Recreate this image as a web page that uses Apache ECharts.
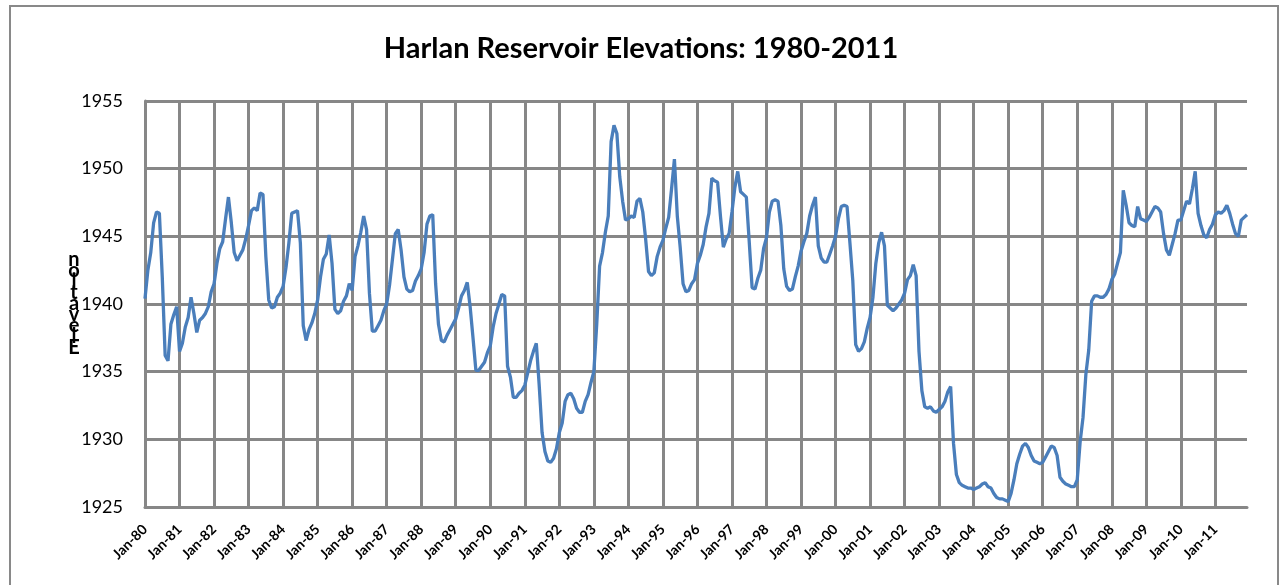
<!DOCTYPE html>
<html>
<head>
<meta charset="utf-8">
<title>Harlan Reservoir Elevations</title>
<script src="https://cdn.jsdelivr.net/npm/echarts@6/dist/echarts.min.js"></script>
<style>
  html, body { margin: 0; padding: 0; background: #fff; overflow: hidden; }
  #frame { position: absolute; left: 9px; top: 5px; width: 1266px; height: 640px; border: 2px solid #898989; }
  #chart { position: absolute; left: 0; top: 0; width: 1282px; height: 585px; }
</style>
</head>
<body>
<div id="frame"></div>
<div id="chart"></div>
<script>
// monthly reservoir elevation (ft), Jan..Dec for each year
var elev1980s = [
  1940.4, 1942.5, 1943.8, 1946.0, 1946.8, 1946.7, 1942.0, 1936.2, 1935.8, 1938.5, 1939.2, 1939.8, // 1980
  1936.5, 1937.1, 1938.3, 1939.0, 1940.5, 1939.3, 1937.9, 1938.8, 1939.0, 1939.3, 1939.8, 1940.9, // 1981
  1941.5, 1943.0, 1944.1, 1944.6, 1946.3, 1947.9, 1946.0, 1943.8, 1943.2, 1943.6, 1944.0, 1944.8, // 1982
  1945.8, 1946.9, 1947.1, 1946.9, 1948.2, 1948.1, 1943.5, 1940.3, 1939.7, 1939.8, 1940.5, 1940.8, // 1983
  1941.3, 1942.7, 1944.5, 1946.7, 1946.8, 1946.9, 1944.5, 1938.4, 1937.3, 1938.1, 1938.6, 1939.3, // 1984
  1940.3, 1942.0, 1943.3, 1943.7, 1945.1, 1943.0, 1939.6, 1939.3, 1939.5, 1940.2, 1940.6, 1941.5, // 1985
  1941.0, 1943.5, 1944.3, 1945.3, 1946.5, 1945.5, 1940.8, 1938.0, 1938.0, 1938.4, 1938.8, 1939.5, // 1986
  1940.0, 1941.4, 1943.3, 1945.2, 1945.5, 1944.0, 1942.0, 1941.1, 1940.9, 1941.0, 1941.7, 1942.1, // 1987
  1942.6, 1943.8, 1945.9, 1946.5, 1946.6, 1941.5, 1938.5, 1937.3, 1937.2, 1937.7, 1938.1, 1938.5, // 1988
  1938.9, 1939.7, 1940.6, 1941.0, 1941.6, 1939.8, 1937.5, 1935.1, 1935.1, 1935.4, 1935.7, 1936.4  // 1989
];
var elev1990s = [
  1936.9, 1938.3, 1939.3, 1940.0, 1940.7, 1940.6, 1935.4, 1934.6, 1933.1, 1933.1, 1933.4, 1933.6, // 1990
  1934.0, 1934.9, 1935.8, 1936.5, 1937.1, 1934.0, 1930.5, 1929.1, 1928.4, 1928.3, 1928.6, 1929.3, // 1991
  1930.5, 1931.2, 1932.8, 1933.3, 1933.4, 1933.0, 1932.3, 1932.0, 1932.0, 1932.8, 1933.3, 1934.2, // 1992
  1935.0, 1938.5, 1942.8, 1943.8, 1945.3, 1946.5, 1952.0, 1953.2, 1952.6, 1949.4, 1947.6, 1946.2, // 1993
  1946.3, 1946.5, 1946.4, 1947.6, 1947.8, 1946.8, 1944.8, 1942.4, 1942.1, 1942.3, 1943.5, 1944.2, // 1994
  1944.7, 1945.6, 1946.4, 1948.5, 1950.7, 1946.5, 1944.2, 1941.5, 1940.9, 1941.0, 1941.5, 1941.8, // 1995
  1943.0, 1943.6, 1944.4, 1945.7, 1946.7, 1949.3, 1949.1, 1949.0, 1946.5, 1944.2, 1944.8, 1945.2, // 1996
  1946.8, 1948.6, 1949.8, 1948.3, 1948.1, 1947.9, 1944.6, 1941.2, 1941.1, 1941.9, 1942.5, 1944.1, // 1997
  1944.9, 1946.8, 1947.6, 1947.7, 1947.6, 1945.8, 1942.6, 1941.3, 1941.0, 1941.1, 1942.0, 1942.8, // 1998
  1943.9, 1944.6, 1945.2, 1946.5, 1947.3, 1947.9, 1944.3, 1943.4, 1943.1, 1943.1, 1943.7, 1944.3  // 1999
];
var elev2000s = [
  1945.0, 1946.3, 1947.2, 1947.3, 1947.2, 1944.5, 1941.7, 1937.0, 1936.5, 1936.7, 1937.2, 1938.2, // 2000
  1939.0, 1940.5, 1943.0, 1944.5, 1945.3, 1944.3, 1939.9, 1939.7, 1939.5, 1939.7, 1940.0, 1940.3, // 2001
  1940.8, 1941.8, 1942.1, 1942.9, 1942.1, 1936.5, 1933.6, 1932.4, 1932.3, 1932.4, 1932.1, 1932.0, // 2002
  1932.2, 1932.4, 1932.8, 1933.5, 1933.9, 1929.7, 1927.4, 1926.8, 1926.6, 1926.5, 1926.4, 1926.4, // 2003
  1926.3, 1926.4, 1926.5, 1926.7, 1926.8, 1926.5, 1926.4, 1926.0, 1925.7, 1925.6, 1925.6, 1925.5, // 2004
  1925.4, 1926.0, 1927.0, 1928.2, 1928.9, 1929.5, 1929.7, 1929.4, 1928.8, 1928.4, 1928.3, 1928.2, // 2005
  1928.3, 1928.7, 1929.1, 1929.5, 1929.4, 1928.8, 1927.2, 1926.9, 1926.7, 1926.6, 1926.5, 1926.5, // 2006
  1927.0, 1929.8, 1931.6, 1934.8, 1936.6, 1940.2, 1940.6, 1940.6, 1940.5, 1940.5, 1940.7, 1941.1, // 2007
  1941.8, 1942.2, 1943.0, 1943.8, 1948.4, 1947.3, 1946.0, 1945.8, 1945.7, 1947.2, 1946.3, 1946.2, // 2008
  1946.1, 1946.4, 1946.8, 1947.2, 1947.1, 1946.8, 1945.2, 1944.0, 1943.6, 1944.4, 1945.2, 1946.2  // 2009
];
var elev2010s = [
  1946.2, 1946.9, 1947.6, 1947.4, 1948.5, 1949.8, 1946.7, 1945.8, 1945.1, 1944.9, 1945.5, 1945.9, // 2010
  1946.6, 1946.8, 1946.7, 1946.9, 1947.3, 1946.7, 1945.9, 1945.2, 1945.0, 1946.2, 1946.4, 1946.6  // 2011
];

var monthNames = ['Jan', 'Feb', 'Mar', 'Apr', 'May', 'Jun', 'Jul', 'Aug', 'Sep', 'Oct', 'Nov', 'Dec'];
var firstYear = 1980, lastYear = 2011;

var elevations = elev1980s.concat(elev1990s, elev2000s, elev2010s);

// month labels like "Jan-80"
var months = [];
for (var y = firstYear; y <= lastYear; y++) {
  for (var m = 0; m < 12; m++) {
    months.push(monthNames[m] + '-' + String(y).slice(2));
  }
}

var gridColor = '#878787';

var myChart = echarts.init(document.getElementById('chart'));
var option = {
  backgroundColor: 'transparent',
  animation: false,
  title: {
    text: 'Harlan Reservoir Elevations: 1980-2011',
    left: 'center',
    top: 29,
    textStyle: {
      fontFamily: 'Lato',
      fontWeight: 'bold',
      fontSize: 29,
      color: '#000'
    }
  },
  grid: {
    left: 145,
    right: 35,
    top: 101,
    bottom: 78
  },
  xAxis: {
    type: 'category',
    data: months,
    boundaryGap: false,
    axisLine: { lineStyle: { color: gridColor, width: 3 } },
    axisTick: { show: false },
    axisLabel: {
      interval: 11,
      rotate: 45,
      margin: 20,
      fontFamily: 'Lato',
      fontWeight: 'bold',
      fontSize: 14,
      color: '#000'
    },
    splitLine: {
      show: true,
      interval: 11,
      lineStyle: { color: gridColor, width: 3 }
    }
  },
  yAxis: {
    type: 'value',
    min: 1925,
    max: 1955,
    interval: 5,
    name: 'n\no\ni\nt\na\nv\ne\nl\nE',
    nameLocation: 'middle',
    nameRotate: 0,
    nameGap: 71,
    nameMoveOverlap: false,
    nameTextStyle: {
      fontFamily: 'Lato',
      fontWeight: 'bold',
      fontSize: 20,
      lineHeight: 11,
      align: 'center',
      color: '#000'
    },
    axisLine: { show: true, lineStyle: { color: gridColor, width: 3 } },
    axisTick: { show: false },
    axisLabel: {
      margin: 22,
      fontFamily: 'Lato',
      fontSize: 18,
      color: '#000',
      formatter: function (v) { return String(v); }
    },
    splitLine: { lineStyle: { color: gridColor, width: 3 } }
  },
  series: [{
    name: 'Elevation',
    type: 'line',
    data: elevations,
    showSymbol: false,
    lineStyle: { color: '#4a7ebb', width: 3.3 },
    itemStyle: { color: '#4a7ebb' }
  }]
};
myChart.setOption(option);
</script>
</body>
</html>
